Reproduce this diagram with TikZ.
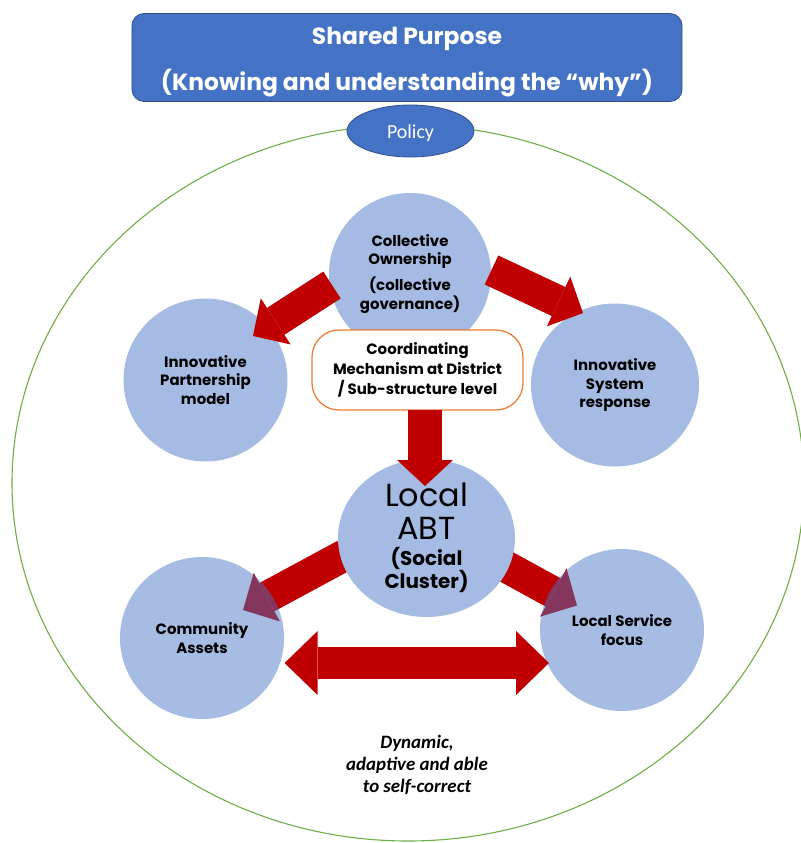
\documentclass[tikz,border=0pt]{standalone}
\usepackage{fontspec}
\setmainfont{Poppins}
\newfontfamily\calfont{Carlito}
\usetikzlibrary{arrows.meta,shapes.geometric}
\definecolor{abtblue}{RGB}{68,114,196}
\definecolor{abtedge}{RGB}{47,82,143}
\definecolor{abtred}{RGB}{192,0,0}
\definecolor{abtorange}{RGB}{237,125,49}
\definecolor{abtgreen}{RGB}{112,173,71}
\tikzset{
  hub/.style={
    ellipse, fill=abtblue!48, inner sep=0pt, align=center,
    font=\bfseries\fontsize{15}{18.5}\selectfont
  },
  glass/.style={hub, fill=abtblue, fill opacity=0.48, text opacity=1},
  banner/.style={
    draw=abtedge, fill=abtblue, line width=0.8pt, rounded corners=12bp
  },
  bannertext/.style={
    text=white, align=center, font=\bfseries\fontsize{23.5}{46}\selectfont
  },
  lozenge/.style={
    draw=abtorange, fill=white, line width=1.3pt, rounded corners=27bp,
    align=center, font=\bfseries\fontsize{15}{20}\selectfont
  },
  blk/.style={
    draw=abtred, line width=32bp,
    -{Triangle[length=27bp,width=55bp,line width=0pt 0 0]}
  },
  dblk/.style={
    draw=abtred, line width=32bp,
    {Triangle[length=33bp,width=64bp,line width=0pt 0 0]}-{Triangle[length=33bp,width=64bp,line width=0pt 0 0]}
  },
  ring/.style={draw=abtgreen, line width=1.1pt},
  note/.style={align=center, font=\calfont\bfseries\itshape\fontsize{19}{22}\selectfont}
}
\begin{document}
\begin{tikzpicture}[x=1bp, y=-1bp]
  \useasboundingbox (0,0) rectangle (801,843);
  \clip (0,0) rectangle (801,843);

  \draw[ring] (408,483) ellipse [x radius=396, y radius=358];

  \node[banner, minimum width=550bp, minimum height=88bp] (purpose) at (407,57.5) {};
  \node[bannertext] (purpose-text) at (407,62)
    {Shared Purpose\\(Knowing and understanding the “why”)};
  \node[ellipse, draw=abtedge, fill=abtblue, line width=0.8pt, text=white,
    minimum width=127bp, minimum height=52bp, inner sep=0pt, text depth=0pt,
    font=\calfont\fontsize{20}{22}\selectfont] (policy) at (410.5,131)
    {\raisebox{-2bp}{Policy}};

  \node[hub, minimum width=162bp, minimum height=162bp] (own) at (410,274)
    {Collective\\Ownership\\[7.5pt](collective\\governance)};
  \node[hub, minimum width=164bp, minimum height=163bp] (part) at (205.5,380)
    {Innovative\\Partnership\\model};
  \node[hub, minimum width=168bp, minimum height=163bp] (sys) at (615,385)
    {Innovative\\System\\response};

  \coordinate (own-w) at (332,285);
  \coordinate (part-tip) at (253,336);
  \coordinate (own-e) at (491.5,270);
  \coordinate (sys-tip) at (583,313);
  \draw[blk] (own-w) -- (part-tip);
  \draw[blk] (own-e) -- (sys-tip);

  \node[lozenge, minimum width=211bp, minimum height=80bp] (coord) at (417.5,370)
    {Coordinating\\Mechanism at District\\/ Sub-structure level};

  \coordinate (abt-w) at (345,555);
  \coordinate (asset-tip) at (243,610);
  \coordinate (abt-e) at (499.5,563);
  \coordinate (serv-tip) at (577,605.5);
  \draw[blk] (abt-w) -- (asset-tip);
  \draw[blk] (abt-e) -- (serv-tip);

  \node[hub, minimum width=177bp, minimum height=158bp,
    font=\bfseries\fontsize{20}{23}\selectfont] (abt) at (426.5,538)
    {{\mdseries\fontsize{32}{32}\selectfont Local}\\[10pt]%
     {\mdseries\fontsize{32}{32}\selectfont ABT}\\[3pt](Social\\Cluster)};

  \coordinate (coord-s) at (425,410);
  \coordinate (abt-tip) at (425,486);
  \draw[draw=abtred, line width=34bp,
    -{Triangle[length=26bp,width=56bp,line width=0pt 0 0]}] (coord-s) -- (abt-tip);

  \node[glass, minimum width=164bp, minimum height=162bp] (asset) at (202,638)
    {Community\\Assets};
  \node[glass, minimum width=164bp, minimum height=162bp] (serv) at (622,630)
    {Local Service\\focus};

  \coordinate (asset-e) at (284.6,663);
  \coordinate (serv-w) at (549,663);
  \draw[dblk] (asset-e) -- (serv-w);

  \node[note] (motto) at (417,765) {Dynamic,\\adaptive and able\\to self-correct};
\end{tikzpicture}
\end{document}
